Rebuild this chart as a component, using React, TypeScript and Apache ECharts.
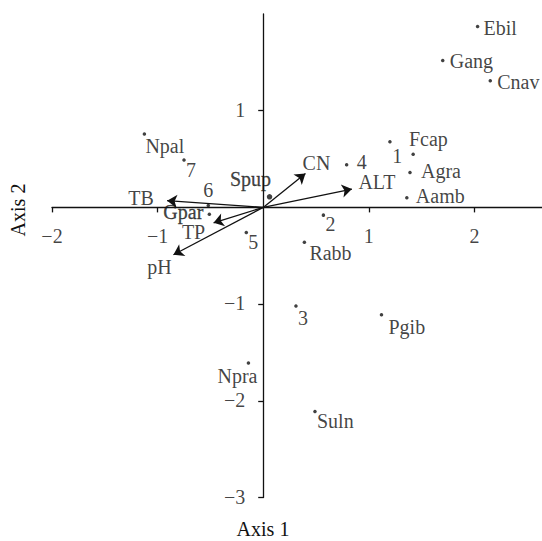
import React, { useEffect, useRef } from "react";
import * as echarts from "echarts";

// Species / site points (Axis 1, Axis 2)
const pointNames = ["Ebil", "Gang", "Cnav", "Fcap", "1", "Agra", "Aamb", "4", "Spup", "Npal", "7", "6", "Gpar", "5", "2", "Rabb", "3", "Pgib", "Npra", "Suln"];
const pointX = [2.03, 1.70, 2.15, 1.20, 1.42, 1.39, 1.36, 0.79, 0.06, -1.125, -0.75, -0.52, -0.51, -0.16, 0.57, 0.39, 0.31, 1.12, -0.14, 0.49];
const pointY = [1.87, 1.52, 1.31, 0.68, 0.55, 0.36, 0.10, 0.44, 0.11, 0.76, 0.49, 0.02, -0.07, -0.26, -0.08, -0.36, -1.02, -1.11, -1.61, -2.11];

// Environmental vectors
const vectorNames = ["CN", "ALT", "TB", "TP", "pH"];
const vectorX = [0.40, 0.84, -0.91, -0.47, -0.85];
const vectorY = [0.35, 0.19, 0.07, -0.16, -0.49];

// Tick values
const xTicks = [-2, -1, 1, 2];
const yTicks = [-3, -2, -1, 1];

// label layout: [dx, dy, align]
const pointLabelLayout: Record<string, [number, number, string]> = {
  Ebil: [6, 1, "left"],
  Gang: [7, 1, "left"],
  Cnav: [7, 1, "left"],
  Fcap: [19, -3, "left"],
  "1": [-11, 2, "right"],
  Agra: [11, -2, "left"],
  Aamb: [9, -2, "left"],
  "4": [10, -3, "left"],
  Spup: [-19, -18, "center"],
  Npal: [1, 12, "left"],
  "7": [2, 10, "left"],
  "6": [0, -15, "center"],
  Gpar: [-6, -2, "right"],
  "5": [2, 9, "left"],
  "2": [2, 9, "left"],
  Rabb: [5, 11, "left"],
  "3": [2, 12, "left"],
  Pgib: [7, 12, "left"],
  Npra: [-11, 13, "center"],
  Suln: [2, 10, "left"],
};
const emphasized = ["Spup", "Gpar"];
const vectorLabelLayout: Record<string, [number, number]> = {
  CN: [11, -11],
  ALT: [25, -7],
  TB: [-26, -3],
  TP: [-20, 9],
  pH: [-14, 12],
};

const FONT = "Liberation Serif";
const INK = "#111";

export default function App() {
  const ref = useRef<HTMLDivElement>(null);
  useEffect(() => {
    if (!ref.current) return;
    const chart = echarts.init(ref.current, undefined, { renderer: "svg" });
    const minus = (v: number) => String(v).replace("-", "\u2212");
    const textStyle = { fontFamily: FONT, fontSize: 20, color: INK, verticalAlign: "middle" };
    const pointData = pointNames.map((n, i) => {
      const l = pointLabelLayout[n];
      const strong = emphasized.includes(n);
      return {
        name: n,
        value: [pointX[i], pointY[i]],
        symbolSize: n === "Spup" ? 5.5 : 3.5,
        label: {
          offset: [l[0], l[1]],
          align: l[2],
          textBorderColor: strong ? INK : "transparent",
          textBorderWidth: strong ? 0.3 : 0,
        },
      };
    });
    const tipData = vectorNames.map((n, i) => {
      const l = vectorLabelLayout[n];
      return {
        name: n,
        value: [vectorX[i], vectorY[i]],
        label: { offset: [l[0], l[1]], align: "center" },
      };
    });
    const xTickLabelData = xTicks.map((v) => ({
      name: minus(v),
      value: [v, 0],
      label: { offset: [0, 29], align: "center" },
    }));
    const yTickLabelData = yTicks.map((v) => ({
      name: minus(v),
      value: [0, v],
      label: { offset: [-18, -1], align: "right" },
    }));
    const labelOnly = (data: any[], z: number) => ({
      type: "scatter",
      symbol: "circle",
      symbolSize: 0,
      silent: true,
      itemStyle: { color: "transparent" },
      label: { show: true, position: "inside", formatter: "{b}", ...textStyle },
      data,
      z,
    });
    chart.setOption({
      animation: false,
      grid: { left: 52, right: 0, top: 14, bottom: 43.5 },
      xAxis: {
        type: "value",
        min: -2,
        max: 2.64,
        interval: 1,
        splitLine: { show: false },
        axisLine: { onZero: true, lineStyle: { color: INK, width: 1.3 } },
        axisTick: { show: true, length: 5, customValues: xTicks, lineStyle: { color: INK, width: 1.3 } },
        axisLabel: { show: false },
      },
      yAxis: {
        type: "value",
        min: -3,
        max: 2,
        interval: 1,
        splitLine: { show: false },
        axisLine: { onZero: true, lineStyle: { color: INK, width: 1.3 } },
        axisTick: { show: true, length: 5, customValues: yTicks, lineStyle: { color: INK, width: 1.3 } },
        axisLabel: { show: false },
      },
      graphic: [
        {
          type: "text",
          x: 263,
          y: 529,
          style: { text: "Axis 1", font: `20px "${FONT}"`, fill: INK, align: "center", verticalAlign: "middle" },
        },
        {
          type: "text",
          x: 18,
          y: 210,
          rotation: Math.PI / 2,
          style: { text: "Axis 2", font: `20px "${FONT}"`, fill: INK, align: "center", verticalAlign: "middle" },
        },
      ],
      series: [
        {
          type: "lines",
          coordinateSystem: "cartesian2d",
          symbol: ["none", "arrow"],
          symbolSize: 10,
          lineStyle: { color: INK, width: 1.3, opacity: 1 },
          data: vectorNames.map((n, i) => ({ coords: [[0, 0], [vectorX[i], vectorY[i]]] })),
          silent: true,
          z: 3,
        },
        labelOnly(tipData, 4),
        labelOnly(xTickLabelData, 4),
        labelOnly(yTickLabelData, 4),
        {
          type: "scatter",
          symbol: "circle",
          itemStyle: { color: INK },
          label: { show: true, position: "inside", formatter: "{b}", ...textStyle },
          data: pointData,
          z: 5,
        },
      ],
    });
    return () => chart.dispose();
  }, []);
  return <div ref={ref} style={{ position: "absolute", left: 0, top: 0, width: 542, height: 541 }} />;
}
